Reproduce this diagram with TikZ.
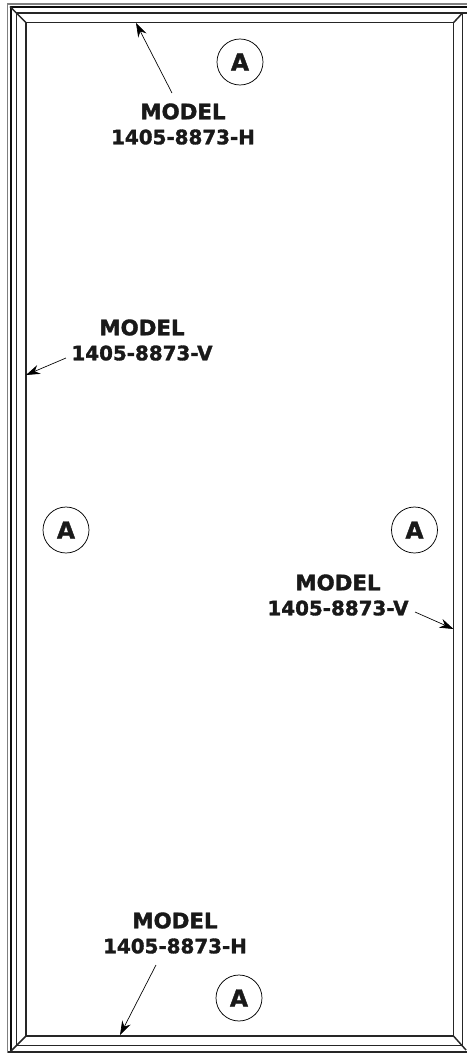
\documentclass[tikz,border=0pt]{standalone}
\usepackage{fontspec}
\newfontfamily\labelfont{DejaVu Sans}[BoldFont={DejaVu Sans Bold}, BoldFeatures={FakeBold=1.6}]
\usetikzlibrary{arrows.meta}
\tikzset{
	modellabel/.style={align=center, inner sep=0pt, text=black!90, font=\labelfont\bfseries\fontsize{14.9}{18.75}\selectfont},
	areamark/.style={draw, circle, minimum size=34.5pt, inner sep=0pt, line width=0.55pt, text=black!90, font=\labelfont\bfseries\fontsize{17.5}{17.5}\selectfont},
	leader/.style={draw, line width=0.5pt, -{Stealth[length=10.5pt, width=7pt]}},
	rail/.style={draw=black!85, line width=1.1pt},
	railgrey/.style={draw=black!50, line width=0.9pt},
	raildark/.style={draw=black!95, line width=1.5pt}
}
\newcommand{\modelword}{{\fontsize{16}{18.75}\selectfont MODEL}}
\begin{document}
\begin{tikzpicture}[x=0.75pt, y=-0.75pt]
	\useasboundingbox (0,0) rectangle (467,1053);

	\draw[railgrey] (7.5,1053) -- (7.5,4) -- (467,4);
	\draw[raildark] (10.5,1052) -- (10.5,6.5) -- (467,6.5);
	\draw[rail] (16.5,1045.7) -- (16.5,13) -- (467,13);
	\draw[rail] (16.5,1045.7) -- (462.5,1045.7) -- (462.5,13);
	\draw[rail] (8,1052) -- (467,1052);
	\draw[rail] (26,22.7) rectangle (453.5,1036);

	\coordinate (innertl) at (26,22.7);
	\coordinate (innertr) at (453.5,22.7);
	\coordinate (innerbl) at (26,1036);
	\coordinate (innerbr) at (453.5,1036);
	\coordinate (outertl) at (10,6.5);
	\coordinate (outertr) at (462.5,13);
	\coordinate (outerbl) at (10,1052);
	\coordinate (outerbr) at (466,1050);

	\draw[rail] (innertl) -- (outertl);
	\draw[rail] (innertr) -- (outertr);
	\draw[rail] (innerbl) -- (outerbl);
	\draw[rail] (innerbr) -- (outerbr);

	\node[areamark] (marktop) at (240,62) {A};
	\node[areamark] (markleft) at (66,530) {A};
	\node[areamark] (markright) at (414.5,530) {A};
	\node[areamark] (markbottom) at (239,998) {A};

	\node[modellabel] (modeltop) at (183,124) {\modelword\\1405-8873-H};
	\node[modellabel] (modelleft) at (142,340) {\modelword\\1405-8873-V};
	\node[modellabel] (modelright) at (338,595) {\modelword\\1405-8873-V};
	\node[modellabel] (modelbottom) at (175,933) {\modelword\\1405-8873-H};

	\coordinate (tiptop) at (136,23);
	\coordinate (tipleft) at (26,375);
	\coordinate (tipright) at (453.5,629);
	\coordinate (tipbottom) at (120,1035);

	\coordinate (tailtop) at (172,93);
	\coordinate (tailleft) at (66,358);
	\coordinate (tailright) at (415,612);
	\coordinate (tailbottom) at (156,965);

	\draw[leader] (tailtop) -- (tiptop);
	\draw[leader] (tailleft) -- (tipleft);
	\draw[leader] (tailright) -- (tipright);
	\draw[leader] (tailbottom) -- (tipbottom);
\end{tikzpicture}
\end{document}
